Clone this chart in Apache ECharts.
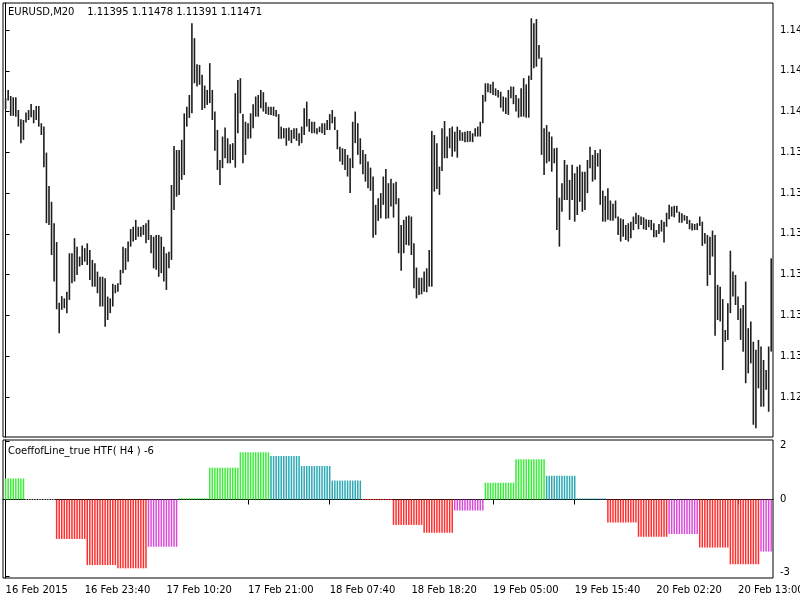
<!DOCTYPE html>
<html>
<head>
<meta charset="utf-8">
<title>EURUSD,M20</title>
<script src="https://cdn.jsdelivr.net/npm/echarts@6/dist/echarts.min.js"></script>
<style>
  html, body { margin: 0; padding: 0; background: #fff; }
  #chart { width: 800px; height: 600px; }
</style>
</head>
<body>
<div id="chart"></div>
<script>
// M20 bars, 16 Feb 13:20 .. 20 Feb 17:20 (high / low of each bar)
const barHigh = [
  1.14132, 1.14165, 1.14141, 1.14136, 1.14136, 1.14086, 1.14050, 1.14047, 1.14076, 1.14086,
  1.14110, 1.14086, 1.14102, 1.14102, 1.14034, 1.14021, 1.13919, 1.13788, 1.13726, 1.13642,
  1.13568, 1.13330, 1.13356, 1.13347, 1.13373, 1.13524, 1.13524, 1.13583, 1.13550, 1.13511,
  1.13554, 1.13544, 1.13563, 1.13537, 1.13498, 1.13485, 1.13452, 1.13432, 1.13432, 1.13426,
  1.13354, 1.13347, 1.13404, 1.13400, 1.13406, 1.13459, 1.13550, 1.13544, 1.13570, 1.13619,
  1.13628, 1.13655, 1.13628, 1.13628, 1.13635, 1.13642, 1.13655, 1.13596, 1.13589, 1.13596,
  1.13596, 1.13589, 1.13550, 1.13524, 1.13530, 1.13792, 1.13945, 1.13929, 1.13929, 1.13969,
  1.14073, 1.14099, 1.14145, 1.14427, 1.14368, 1.14266, 1.14263, 1.14224, 1.14182, 1.14165,
  1.14270, 1.14165, 1.14080, 1.14008, 1.13890, 1.13982, 1.14017, 1.13975, 1.13952, 1.13956,
  1.14152, 1.14204, 1.14211, 1.14070, 1.14040, 1.14034, 1.14073, 1.14109, 1.14139, 1.14145,
  1.14165, 1.14156, 1.14117, 1.14099, 1.14099, 1.14099, 1.14086, 1.14070, 1.14021, 1.14015,
  1.14015, 1.14017, 1.14008, 1.14015, 1.14015, 1.13995, 1.14021, 1.14093, 1.14119, 1.14051,
  1.14040, 1.14040, 1.14015, 1.14021, 1.14034, 1.14034, 1.14047, 1.14070, 1.14086, 1.14060,
  1.14008, 1.13942, 1.13936, 1.13933, 1.13910, 1.13897, 1.14040, 1.14080, 1.14034, 1.13975,
  1.13929, 1.13913, 1.13884, 1.13860, 1.13825, 1.13714, 1.13740, 1.13760, 1.13825, 1.13855,
  1.13799, 1.13816, 1.13799, 1.13805, 1.13740, 1.13635, 1.13655, 1.13668, 1.13672, 1.13668,
  1.13563, 1.13468, 1.13428, 1.13428, 1.13452, 1.13465, 1.13537, 1.14004, 1.13988, 1.13956,
  1.13864, 1.14015, 1.14043, 1.13982, 1.14015, 1.14021, 1.14001, 1.14021, 1.14008, 1.13999,
  1.14001, 1.14004, 1.14004, 1.13995, 1.14015, 1.14021, 1.14040, 1.14145, 1.14191, 1.14191,
  1.14187, 1.14197, 1.14171, 1.14165, 1.14158, 1.14139, 1.14135, 1.14165, 1.14178, 1.14178,
  1.14145, 1.14132, 1.14171, 1.14211, 1.14187, 1.14221, 1.14446, 1.14427, 1.14443, 1.14341,
  1.14292, 1.14015, 1.14027, 1.14001, 1.13982, 1.13936, 1.13938, 1.13742, 1.13799, 1.13890,
  1.13871, 1.13812, 1.13871, 1.13838, 1.13864, 1.13871, 1.13844, 1.13844, 1.13890, 1.13942,
  1.13910, 1.13929, 1.13917, 1.13932, 1.13770, 1.13749, 1.13779, 1.13731, 1.13718, 1.13731,
  1.13668, 1.13661, 1.13657, 1.13635, 1.13642, 1.13648, 1.13668, 1.13683, 1.13674, 1.13668,
  1.13665, 1.13657, 1.13655, 1.13655, 1.13642, 1.13615, 1.13639, 1.13655, 1.13648, 1.13683,
  1.13714, 1.13707, 1.13710, 1.13710, 1.13687, 1.13681, 1.13674, 1.13670, 1.13655, 1.13642,
  1.13639, 1.13642, 1.13668, 1.13648, 1.13603, 1.13596, 1.13589, 1.13613, 1.13596, 1.13400,
  1.13393, 1.13344, 1.13223, 1.13328, 1.13534, 1.13452, 1.13439, 1.13354, 1.13308, 1.13321,
  1.13413, 1.13230, 1.13256, 1.13177, 1.13145, 1.13184, 1.13158, 1.13105, 1.13066, 1.13158,
  1.13504
];
const barLow = [
  1.14089, 1.14123, 1.14063, 1.14063, 1.14060, 1.14021, 1.13956, 1.13969, 1.14037, 1.14047,
  1.14058, 1.14034, 1.14047, 1.14021, 1.13988, 1.13861, 1.13642, 1.13635, 1.13517, 1.13413,
  1.13304, 1.13210, 1.13302, 1.13308, 1.13289, 1.13341, 1.13406, 1.13413, 1.13439, 1.13472,
  1.13478, 1.13491, 1.13478, 1.13419, 1.13393, 1.13393, 1.13367, 1.13315, 1.13315, 1.13236,
  1.13262, 1.13289, 1.13315, 1.13367, 1.13373, 1.13400, 1.13446, 1.13459, 1.13491, 1.13550,
  1.13570, 1.13576, 1.13589, 1.13589, 1.13596, 1.13563, 1.13576, 1.13524, 1.13465, 1.13459,
  1.13432, 1.13446, 1.13413, 1.13380, 1.13465, 1.13498, 1.13694, 1.13746, 1.13753, 1.13812,
  1.13831, 1.14021, 1.14055, 1.14073, 1.14191, 1.14178, 1.14185, 1.14086, 1.14093, 1.14106,
  1.14113, 1.14047, 1.13926, 1.13851, 1.13792, 1.13858, 1.13897, 1.13877, 1.13877, 1.13890,
  1.13860, 1.13995, 1.14073, 1.13877, 1.13910, 1.13973, 1.13975, 1.14015, 1.14060, 1.14060,
  1.14093, 1.14080, 1.14070, 1.14067, 1.14067, 1.14063, 1.14060, 1.13973, 1.13973, 1.13975,
  1.13946, 1.13965, 1.13956, 1.13973, 1.13965, 1.13946, 1.13956, 1.13988, 1.14021, 1.14001,
  1.13995, 1.13995, 1.13991, 1.13999, 1.13995, 1.13988, 1.14008, 1.14008, 1.14034, 1.14008,
  1.13932, 1.13884, 1.13871, 1.13851, 1.13825, 1.13760, 1.13858, 1.13956, 1.13910, 1.13873,
  1.13834, 1.13805, 1.13779, 1.13769, 1.13585, 1.13596, 1.13651, 1.13661, 1.13714, 1.13659,
  1.13661, 1.13707, 1.13664, 1.13716, 1.13524, 1.13455, 1.13524, 1.13557, 1.13554, 1.13517,
  1.13387, 1.13347, 1.13360, 1.13363, 1.13373, 1.13371, 1.13393, 1.13393, 1.13766, 1.13776,
  1.13753, 1.13847, 1.13897, 1.13897, 1.13936, 1.13903, 1.13923, 1.13899, 1.13965, 1.13965,
  1.13960, 1.13960, 1.13962, 1.13960, 1.13982, 1.13982, 1.13982, 1.14034, 1.14119, 1.14156,
  1.14152, 1.14145, 1.14142, 1.14135, 1.14095, 1.14080, 1.14070, 1.14067, 1.14132, 1.14109,
  1.14080, 1.14056, 1.14060, 1.14060, 1.14056, 1.14056, 1.14204, 1.14250, 1.14256, 1.14287,
  1.13910, 1.13831, 1.13877, 1.13884, 1.13844, 1.13877, 1.13615, 1.13550, 1.13687, 1.13733,
  1.13733, 1.13655, 1.13733, 1.13648, 1.13674, 1.13726, 1.13687, 1.13694, 1.13760, 1.13858,
  1.13805, 1.13812, 1.13864, 1.13714, 1.13648, 1.13648, 1.13655, 1.13652, 1.13652, 1.13661,
  1.13596, 1.13570, 1.13589, 1.13576, 1.13570, 1.13583, 1.13615, 1.13639, 1.13618, 1.13635,
  1.13618, 1.13615, 1.13626, 1.13615, 1.13587, 1.13587, 1.13600, 1.13609, 1.13566, 1.13628,
  1.13657, 1.13668, 1.13665, 1.13683, 1.13644, 1.13644, 1.13652, 1.13639, 1.13618, 1.13613,
  1.13615, 1.13615, 1.13631, 1.13553, 1.13561, 1.13396, 1.13439, 1.13511, 1.13200, 1.13262,
  1.13256, 1.13066, 1.13177, 1.13184, 1.13289, 1.13354, 1.13321, 1.13262, 1.13184, 1.13138,
  1.13014, 1.13053, 1.13092, 1.12851, 1.12837, 1.12994, 1.12922, 1.12922, 1.12988, 1.12902,
  1.13138
];

// CoeffofLine HTF(H4): one value per H4 bar, the first one only partly on screen
const h4Values = [0.78, 0, -1.46, -2.43, -2.55, -1.75, 0.05, 1.18, 1.75, 1.61, 1.24, 0.70, -0.03,
  -0.94, -1.23, -0.41, 0.62, 1.49, 0.88, 0.04, -0.85, -1.38, -1.28, -1.78, -2.40, -1.93];
// g up / t down above zero, r down / m up below zero, n no signal
const h4Kinds = ['g', 'n', 'r', 'r', 'r', 'm', 'g', 'g', 'g', 't', 't', 't', 'r',
  'r', 'r', 'm', 'g', 'g', 't', 't', 'r', 'r', 'm', 'r', 'r', 'm'];

const priceTicks = [1.1296, 1.1312, 1.1328, 1.1344, 1.1360, 1.1376, 1.1392, 1.1408, 1.1424, 1.1440];
const coeffTicks = [2.14, 0, -2.85];
const timeLabels = ['16 Feb 2015', '16 Feb 23:40', '17 Feb 10:20', '17 Feb 21:00', '18 Feb 07:40',
  '18 Feb 18:20', '19 Feb 05:00', '19 Feb 15:40', '20 Feb 02:20', '20 Feb 13:00'];
const timeLabelIdx = [0, 31, 63, 95, 127, 159, 191, 223, 255, 287];

const kindColor = { g: '#3bec3b', t: '#2aa9b4', r: '#ff2e2e', m: '#d84bd8', n: '#a8a8a8' };
const font = 'DejaVu Sans';

// bars 0..7 belong to the first H4 bar, then 12 M20 bars per H4 bar
const histKind = [];
const histData = barHigh.map(function (_, i) {
  const k = i < 8 ? 0 : 1 + Math.floor((i - 8) / 12);
  histKind.push(h4Kinds[k]);
  return [i, h4Values[k]];
});
const priceData = barHigh.map(function (h, i) { return [i, h, barLow[i]]; });

const chart = echarts.init(document.getElementById('chart'));

chart.setOption({
  animation: false,
  backgroundColor: '#fff',
  textStyle: { fontFamily: font },
  title: [
    {
      text: 'EURUSD,M20    1.11395 1.11478 1.11391 1.11471',
      left: 8, top: 7, padding: 0,
      textStyle: { fontSize: 10, fontWeight: 'normal', color: '#000', fontFamily: font }
    },
    {
      text: 'CoeffofLine_true HTF( H4 ) -6',
      left: 8, top: 446, padding: 0,
      textStyle: { fontSize: 10, fontWeight: 'normal', color: '#000', fontFamily: font }
    }
  ],
  grid: [
    {
      left: 3, right: 27, top: 3, bottom: 163, containLabel: false, outerBoundsMode: 'none',
      show: true, borderColor: '#000', borderWidth: 1
    },
    {
      left: 3, right: 27, top: 440, bottom: 22, containLabel: false, outerBoundsMode: 'none',
      show: true, borderColor: '#000', borderWidth: 1
    }
  ],
  xAxis: [
    {
      type: 'value', gridIndex: 0, min: -1.02, max: 300.7, show: false
    },
    {
      type: 'value', gridIndex: 1, min: -1.02, max: 300.7,
      splitLine: { show: false },
      axisLine: { show: true, lineStyle: { color: '#000' } },
      axisTick: { show: true, length: 5, lineStyle: { color: '#000' }, customValues: timeLabelIdx.slice(1) },
      axisLabel: {
        customValues: timeLabelIdx,
        align: 'left', margin: 7, fontSize: 10, color: '#000', fontFamily: font,
        formatter: function (v) { return timeLabels[timeLabelIdx.indexOf(Math.round(v))]; }
      }
    }
  ],
  yAxis: [
    {
      type: 'value', gridIndex: 0, position: 'right', min: 1.12803, max: 1.14506,
      splitLine: { show: false },
      axisLine: { show: true, lineStyle: { color: '#000' } },
      axisTick: { show: true, length: 4, lineStyle: { color: '#000' }, customValues: priceTicks },
      axisLabel: {
        customValues: priceTicks, margin: 7, fontSize: 10, color: '#000', fontFamily: font,
        formatter: function (v) { return v.toFixed(5); }
      }
    },
    {
      type: 'value', gridIndex: 1, position: 'right', min: -2.907, max: 2.204,
      splitLine: { show: false },
      axisLine: { show: true, lineStyle: { color: '#000' } },
      axisTick: { show: true, length: 4, lineStyle: { color: '#000' }, customValues: coeffTicks },
      axisLabel: {
        customValues: coeffTicks, margin: 7, fontSize: 10, color: '#000', fontFamily: font,
        formatter: function (v) {
          const t = String(Math.round(v));
          if (v > 1) return '{top|' + t + '}';
          if (v < -1) return '{bot|' + t + '}';
          return t;
        },
        rich: {
          top: { padding: [8, 0, 0, 0], fontSize: 10, color: '#000', fontFamily: font },
          bot: { padding: [0, 0, 8, 0], fontSize: 10, color: '#000', fontFamily: font }
        }
      }
    }
  ],
  series: [
    {
      type: 'custom',
      name: 'EURUSD',
      xAxisIndex: 0, yAxisIndex: 0,
      data: priceData,
      encode: { x: 0, y: [1, 2] },
      renderItem: function (params, api) {
        const i = api.value(0);
        const top = api.coord([i, api.value(1)]);
        const bot = api.coord([i, api.value(2)]);
        return {
          type: 'rect',
          shape: { x: top[0] - 0.8, y: top[1], width: 1.6, height: Math.max(bot[1] - top[1], 1) },
          style: { fill: '#1e1e1e' }
        };
      }
    },
    {
      type: 'custom',
      name: 'CoeffofLine',
      xAxisIndex: 1, yAxisIndex: 1,
      data: histData,
      encode: { x: 0, y: 1 },
      renderItem: function (params, api) {
        const i = api.value(0);
        const base = api.coord([i, 0]);
        const end = api.coord([i, api.value(1)]);
        let y = Math.min(base[1], end[1]);
        let h = Math.abs(end[1] - base[1]);
        if (h < 1) { h = 1; y = base[1] - 0.5; }
        return {
          type: 'rect',
          shape: { x: base[0] - 0.75, y: y, width: 1.5, height: h },
          style: { fill: kindColor[histKind[params.dataIndex]] }
        };
      }
    }
  ]
});
</script>
</body>
</html>
